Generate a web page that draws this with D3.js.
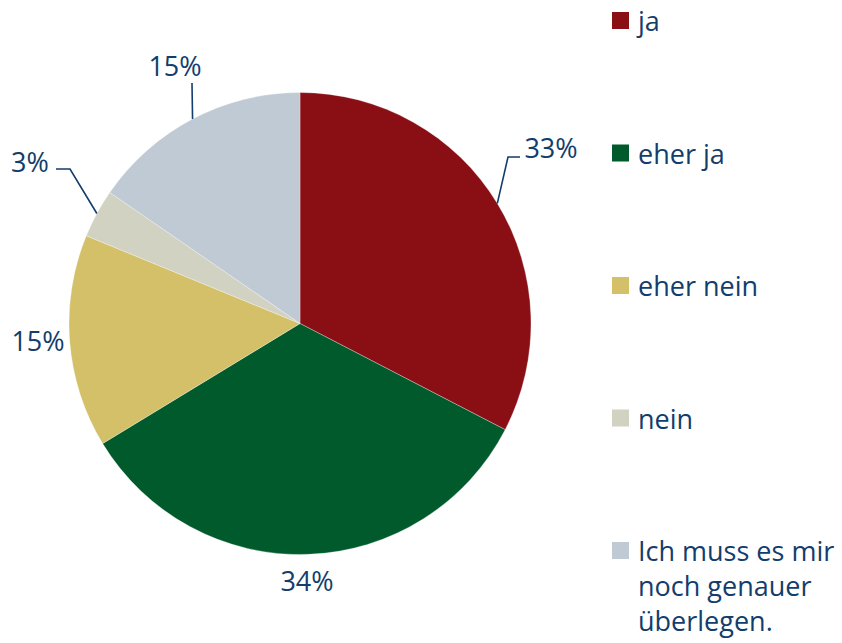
<!DOCTYPE html>
<html>
<head>
<meta charset="utf-8">
<script src="https://cdn.jsdelivr.net/npm/d3@7"></script>
<style>
  body { margin: 0; background: #fff; }
  text { font-family: "Open Sans", sans-serif; fill: #123d6c; }
</style>
</head>
<body>
<svg id="chart" width="842" height="643"></svg>
<script>
// answers (percent)
const categories = ["ja", "eher ja", "eher nein", "nein", "Ich muss es mir noch genauer überlegen."];
const values = [32.6, 33.7, 14.9, 3.4, 15.4];
const colors = ["#8a0f15", "#005a2b", "#d3c068", "#d1d2c2", "#bfcad4"];
const legendLines = [["ja"], ["eher ja"], ["eher nein"], ["nein"], ["Ich muss es mir", "noch genauer", "überlegen."]];

// where each % label sits, and the elbow of its leader line (null = no line)
const labelLayout = [
    {x: 551, y: 147, elbow: [[508, 157], [520, 157]]},
    {x: 307, y: 580, elbow: null},
    {x: 38, y: 340, elbow: null},
    {x: 30, y: 161, elbow: [[70, 169], [56, 169]]},
    {x: 175, y: 65, elbow: [[192, 83]]}
]

const svg = d3.select('#chart')
const cx = 300, cy = 323.5, radius = 231

const pie = d3.pie().sort(null).value(d => d.value)
const data = categories.map((c, i) => ({name: c, value: values[i], color: colors[i], i: i}))
const arcs = pie(data)
const arc = d3.arc().innerRadius(0).outerRadius(radius)
const edge = d3.arc().innerRadius(radius).outerRadius(radius)

const g = svg.append('g').attr('transform', `translate(${cx},${cy})`)

g.selectAll('path')
    .data(arcs)
    .enter()
    .append('path')
        .attr('d', arc)
        .style('fill', d => d.data.color)
        .style('stroke', '#fff')
        .style('stroke-width', 0.3)

// leader lines start on the rim at the middle of the slice
arcs.forEach((a, i) => {
    const lay = labelLayout[i]
    if (!lay.elbow) return
    const p = edge.centroid(a)
    const pts = [[p[0] + cx, p[1] + cy]].concat(lay.elbow)
    svg.append('path')
        .attr('d', d3.line()(pts))
        .style('fill', 'none')
        .style('stroke', '#123d6c')
        .style('stroke-width', 1.6)
})

svg.selectAll('text.pct')
    .data(arcs)
    .enter()
    .append('text')
        .attr('class', 'pct')
        .attr('x', (d, i) => labelLayout[i].x)
        .attr('y', (d, i) => labelLayout[i].y)
        .attr('text-anchor', 'middle')
        .attr('dominant-baseline', 'central')
        .style('font-size', '27px')
        .text(d => Math.round(d.data.value) + '%')

// legend
const ly = d3.scalePoint().domain(categories).range([20, 550])
const legend = svg.append('g')
categories.forEach((c, i) => {
    const y = ly(c)
    legend.append('rect')
        .attr('x', 612).attr('y', y - 8)
        .attr('width', 17).attr('height', 17)
        .style('fill', colors[i])
    const t = legend.append('text')
        .attr('x', 638).attr('y', y)
        .attr('dominant-baseline', 'central')
        .style('font-size', '27px')
    legendLines[i].forEach((line, k) => {
        t.append('tspan').attr('x', 638).attr('dy', k === 0 ? 0 : 35).text(line)
    })
})
</script>
</body>
</html>
